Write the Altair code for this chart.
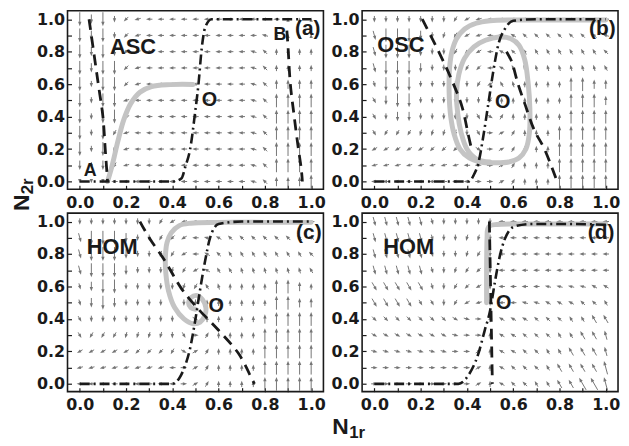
import math
import altair as alt
import pandas as pd

# ---------------- data ----------------
GRID_X = [0.0, 0.05, 0.1, 0.15, 0.2, 0.25, 0.3, 0.35, 0.4, 0.45, 0.5,
          0.55, 0.6, 0.65, 0.7, 0.75, 0.8, 0.85, 0.9, 0.95, 1.0]
GRID_Y = [1.0, 0.9, 0.8, 0.7, 0.6, 0.5, 0.4, 0.3, 0.2, 0.1, 0.0]
TICKS = [0.0, 0.2, 0.4, 0.6, 0.8, 1.0]
MINOR = [0.0, 0.1, 0.2, 0.3, 0.4, 0.5, 0.6, 0.7, 0.8, 0.9, 1.0]

# arrow field: clock direction + length class (t,s,m,l), one row per GRID_Y
ARROWS_A = [
    "6l 6m 6l 6s 7.5s 8.5s 9s 9s 9s 9s 9s 9s 9s 9s 9s 9s 9s 9s 12t 12t 12t",
    "6l 6m 6l 6s 7.5s 8.5s 9s 9s 9s 9s 9s 9s 9s 9s 9s 9s 9.5s 11s 12t 12t 12t",
    "6l 6m 6l 6m 7.5s 8.5s 9s 9s 9s 9s 9s 9s 9s 9s 9s 9.5s 10.5s 12s 12s 12s 12s",
    "6l 6m 6l 6l 7.5s 8.5s 9s 9s 9s 9s 9s 9s 9s 9s 9s 9.5s 10.5s 12s 12s 12s 12s",
    "6l 6s 6l 6l 7.5s 8.5s 9s 9s 9s 9s 9s 9s 9s 9s 9s 9.5s 10.5s 12m 12m 12m 12m",
    "6l 6s 6l 6l 8.5s 9s 9s 9s 9s 9s 9s 9s 9s 9s 9s 9.5s 10.5s 12l 12l 12l 12l",
    "6l 6s 6l 6l 8.5s 9s 9s 9s 9s 9s 9s 9s 9s 9s 9s 9.5s 10.5s 12l 12l 12l 12l",
    "6l 6s 6l 7s 8.5s 9s 9s 9s 9s 9s 9s 9s 9s 9s 9s 9.5s 10.5s 12l 12l 12l 12l",
    "6l 6s 6l 7s 8.5s 9s 9s 9s 9s 9s 9s 9s 9s 9s 9s 9.5s 10.5s 12l 12l 12l 12l",
    "6m 6s 6m 7s 8.5s 9s 9s 9s 9s 9s 9s 9s 9s 9s 9s 9.5s 10.5s 12l 12l 12l 12l",
    "6t 6t 6t 9s 9s 9s 9s 9s 9s 9s 9s 9s 9s 9s 9s 9.5s 10.5s 12m 12m 12m 12l",
]
ARROWS_B = [
    "6s 6s 6s 6s 6s 6s 6s 7s 8s 8.5s 9s 9s 9s 9s 9s 9s 9s 9s 9s 9s 9s",
    "5.5m 6l 6l 6l 6m 6s 6.5s 7s 8s 8.5s 9s 9.5s 10s 10.5s 10.5s 10.5s 10.5s 10.5s 10.5s 10.5s 9.5s",
    "5.5m 6l 6l 6l 6m 6s 6s 7s 7.5s 8s 9s 10s 10.5s 11s 11s 11s 11s 11s 11s 11s 10.5s",
    "5.5m 6l 6l 6l 6m 6s 6s 6s 7s 7.5s 9s 10s 11s 11s 11.5s 11.5s 11.5s 11.5s 11.5s 11.5s 11s",
    "5.5s 6l 6l 6l 6s 6s 6s 6s 6s 7s 8s 11s 11.5s 12s 12s 12s 12s 12l 12l 12m 12m",
    "5s 6m 6l 6l 6s 6s 6s 6s 6s 6s 7s 12s 12s 12s 12s 12s 12s 12l 12l 12l 12m",
    "5s 6s 6m 6m 6s 6s 6s 6s 6s 5s 4s 1s 12s 12s 12s 12s 12s 12l 12l 12l 12l",
    "5s 7s 7s 7s 6.5s 6.5s 6.5s 6.5s 6s 5s 3s 2s 1s 12s 12s 12s 12l 12l 12l 12l 12l",
    "8s 8s 8s 8s 8s 7.5s 7.5s 7.5s 6s 4s 3s 2s 1s 12s 12s 12s 12l 12l 12l 12l 12l",
    "8.5s 8.5s 8.5s 8.5s 8.5s 8.5s 8.5s 8.5s 9s 3s 3s 2s 1s 12s 12s 12s 12l 12l 12l 12l 12l",
    "9s 9s 9s 9s 9s 9s 9s 9s 9s 3s 3s 2s 1s 12s 12s 12s 12l 12l 12l 12l 12l",
]
ARROWS_C = [
    "6s 6s 6s 6s 6s 6s 6s 7s 8s 8.5s 9s 9s 9s 9s 9s 9s 9s 9s 9s 9s 9s",
    "5.5m 6l 6l 6l 6m 6s 6s 7s 7.5s 8s 9s 9.5s 10s 10.5s 10.5s 10.5s 10.5s 10.5s 10.5s 10.5s 10s",
    "5.5m 6l 6l 6l 6m 6s 6s 6.5s 7s 8s 9s 10s 10.5s 11s 11s 11s 11s 11s 11s 11s 10.5s",
    "5.5m 6l 6l 6l 6m 6s 6s 6s 6.5s 7s 8s 10s 11s 11s 11.5s 11.5s 11.5s 11.5s 11.5s 11.5s 11s",
    "5.5s 6m 6l 6l 6s 6s 6s 6s 6s 6.5s 7s 11s 11.5s 12s 12s 12s 12s 12l 12l 12m 12s",
    "5.5s 6m 6l 6m 6s 6s 6s 6s 6s 6s 6s 12s 12s 12s 12s 12s 12s 12l 12l 12m 12m",
    "5s 6s 6s 6s 6s 6s 6s 6s 6s 5s 4s 12s 12s 12s 12s 12s 12m 12l 12l 12l 12l",
    "5s 7s 7s 7s 6.5s 6.5s 6.5s 6.5s 6s 5s 3s 1s 12s 12s 12s 12s 12l 12l 12l 12l 12l",
    "8s 8s 8s 8s 8s 7.5s 7.5s 7.5s 7s 4s 2s 1s 12s 12s 12s 12s 12l 12l 12l 12l 12l",
    "8.5s 8.5s 8.5s 8.5s 8.5s 8.5s 8.5s 8.5s 9s 3s 2s 1s 12s 12s 12s 12s 12l 12l 12l 12l 12l",
    "9s 9s 9s 9s 9s 9s 9s 9s 9s 3s 2s 1s 12s 12s 12s 12s 12l 12l 12l 12l 12l",
]
ARROWS_D = [
    "5.5m 5.5m 5.5m 5.5m 5.5m 5.5s 6s 6s 6s 6s 6s 9s 9s 9s 9s 9s 9s 9s 9s 9s 9s",
    "5.5m 5.5m 5.5m 5.5m 5.5m 5.5s 6s 6s 6.5s 6.5s 6s 9s 9s 9s 9s 9s 9s 9s 9s 9s 9s",
    "5.5m 5.5m 5.5m 5.5m 5.5m 5.5s 6s 6s 6.5s 7s 6s 9s 9s 9s 9s 9s 9s 9s 9s 9s 9s",
    "5.5m 5.5m 5.5m 5.5m 5.5m 5.5s 6s 6.5s 7s 7.5s 6s 9s 9s 9s 9s 9s 9s 9s 9s 9s 9s",
    "5m 5m 5m 5m 5m 5.5s 6s 7s 7.5s 8s 6s 9s 9s 9s 9s 9.5s 9.5s 9.5s 9.5s 10s 10s",
    "5m 5m 5m 5m 5s 5s 6s 7s 8s 8.5s 6s 9s 9s 9.5s 9.5s 10s 10s 10s 10.5s 10.5s 11s",
    "4.5s 4.5s 4.5s 4.5s 4.5s 4.5s 4.5s 4s 3.5s 3s 12s 10s 10s 10s 10.5s 10.5s 10.5s 11s 11s 11m 11m",
    "4s 4s 4s 4s 4s 4s 4s 3.5s 3s 3s 12s 10s 10s 10.5s 10.5s 10.5s 11s 11s 11m 11m 11.5m",
    "3.5s 3.5s 3.5s 3.5s 3.5s 3.5s 3.5s 3s 3s 2s 12s 10s 10s 10.5s 10.5s 11s 11s 11m 11m 11m 11.5m",
    "3s 3s 3s 3s 3s 3s 3s 3s 3s 2s 12s 10s 10.5s 10.5s 10.5s 11s 11m 11m 11m 11m 11.5l",
    "3s 3s 3s 3s 3s 3s 3s 3s 3s 2s 12s 10s 10.5s 10.5s 11s 11s 11m 11m 11l 11l 11.5l",
]

# N2 nullclines (dash-dot)
SIG_A_X = [0.0, 0.2, 0.405, 0.44, 0.456, 0.477, 0.498, 0.513, 0.527, 0.542, 0.57, 0.7, 0.85, 1.0]
SIG_A_Y = [0.0, 0.0, 0.0, 0.02, 0.09, 0.2, 0.42, 0.6, 0.82, 0.95, 1.0, 1.0, 1.0, 1.0]
SIG_B_X = [0.0, 0.2, 0.41, 0.428, 0.45, 0.471, 0.4925, 0.514, 0.535, 0.564, 0.6, 0.7, 0.85, 1.0]
SIG_B_Y = [0.0, 0.0, 0.0, 0.036, 0.117, 0.28, 0.48, 0.68, 0.84, 0.94, 0.99, 1.0, 1.0, 1.0]
SIG_C_X = [0.0, 0.2, 0.4, 0.43, 0.456, 0.477, 0.5, 0.52, 0.542, 0.563, 0.6, 0.7, 0.85, 1.0]
SIG_C_Y = [0.0, 0.0, 0.0, 0.035, 0.115, 0.22, 0.4, 0.58, 0.76, 0.9, 0.985, 1.0, 1.0, 1.0]
SIG_D_X = [0.0, 0.2, 0.363, 0.405, 0.448, 0.477, 0.5, 0.52, 0.541, 0.563, 0.606, 0.677, 0.85, 1.0]
SIG_D_Y = [0.0, 0.0, 0.0, 0.05, 0.18, 0.33, 0.45, 0.62, 0.78, 0.89, 0.97, 0.985, 0.985, 0.98]

# N1 nullclines (dashed), one or two branches
NC_A1_X = [0.04, 0.06, 0.08, 0.1, 0.11, 0.12]
NC_A1_Y = [1.0, 0.8, 0.6, 0.4, 0.2, 0.0]
NC_A2_X = [0.895, 0.9, 0.91, 0.925, 0.943, 0.957, 0.962]
NC_A2_Y = [0.93, 0.83, 0.6, 0.42, 0.22, 0.08, 0.0]
NC_B1_X = [0.207, 0.278, 0.336, 0.379, 0.407, 0.42]
NC_B1_Y = [1.0, 0.8, 0.62, 0.46, 0.28, 0.2]
NC_B2_X = [0.571, 0.593, 0.621, 0.65, 0.69, 0.735, 0.79]
NC_B2_Y = [0.8, 0.74, 0.6, 0.48, 0.32, 0.2, 0.0]
NC_C1_X = [0.26, 0.3, 0.367, 0.438, 0.5, 0.6, 0.687, 0.744, 0.755]
NC_C1_Y = [1.0, 0.9, 0.76, 0.59, 0.48, 0.33, 0.185, 0.03, 0.0]
NC_D1_X = [0.497, 0.51]
NC_D1_Y = [1.0, 0.0]

# trajectories (grey)
TR_A_X = [0.12, 0.14, 0.165, 0.19, 0.22, 0.26, 0.31, 0.39, 0.49]
TR_A_Y = [0.0, 0.1, 0.25, 0.38, 0.48, 0.55, 0.585, 0.597, 0.598]
TR_B_X = [1.0, 0.8, 0.6, 0.5, 0.44, 0.39, 0.355, 0.335, 0.325, 0.323, 0.33, 0.345, 0.37, 0.41,
          0.46, 0.52, 0.58, 0.625, 0.655, 0.67, 0.672, 0.665, 0.65, 0.625, 0.59, 0.54, 0.48,
          0.43, 0.39, 0.365, 0.355, 0.36, 0.375, 0.4, 0.44, 0.5]
TR_B_Y = [0.995, 0.995, 0.995, 0.99, 0.975, 0.94, 0.88, 0.8, 0.7, 0.55, 0.4, 0.29, 0.2, 0.145,
          0.12, 0.115, 0.12, 0.145, 0.2, 0.3, 0.45, 0.6, 0.75, 0.84, 0.88, 0.89, 0.87,
          0.83, 0.76, 0.66, 0.55, 0.42, 0.3, 0.2, 0.14, 0.12]
TR_C_X = [1.0, 0.8, 0.6, 0.48, 0.43, 0.395, 0.377, 0.37, 0.372, 0.384, 0.41, 0.45, 0.49, 0.52,
          0.54, 0.545, 0.53, 0.505, 0.48, 0.47, 0.48, 0.5]
TR_C_Y = [0.995, 0.995, 0.995, 0.99, 0.975, 0.93, 0.87, 0.78, 0.68, 0.57, 0.47, 0.4, 0.37, 0.38,
          0.42, 0.47, 0.52, 0.545, 0.53, 0.5, 0.47, 0.46]
TR_D_X = [0.485, 0.485, 0.487, 0.49, 0.5, 0.53, 0.6, 0.8, 1.0]
TR_D_Y = [0.5, 0.7, 0.9, 0.955, 0.975, 0.982, 0.985, 0.985, 0.985]

# annotations
LAB_A = ["ASC", "O", "A", "B", "(a)"]
LAB_A_X = [0.23, 0.56, 0.045, 0.865, 0.985]
LAB_A_Y = [0.83, 0.5, 0.065, 0.905, 0.94]
LAB_B = ["OSC", "O", "(b)"]
LAB_B_X = [0.115, 0.555, 0.985]
LAB_B_Y = [0.84, 0.49, 0.94]
LAB_C = ["HOM", "O", "(c)"]
LAB_C_X = [0.14, 0.59, 0.99]
LAB_C_Y = [0.84, 0.48, 0.93]
LAB_D = ["HOM", "O", "(d)"]
LAB_D_X = [0.148, 0.559, 0.98]
LAB_D_Y = [0.845, 0.496, 0.93]

# ---------------- styling / layout ----------------
W, H = 258, 180
XDOM = [-0.053, 1.053]
YDOM = [-0.048, 1.052]
PX = W / (XDOM[1] - XDOM[0])
PY = H / (YDOM[1] - YDOM[0])
LEN = {"t": 3.5, "s": 6.5, "m": 9.5, "l": 14.0}
HEAD_R = 2.4
INK = "#1a1a1a"
ARROW = "#757575"
TRAJ = "#c4c4c4"
FONT = "Liberation Sans"
TICK_FONT = "DejaVu Sans"
HEAD_SHAPE = "M0,-1L0.7,0.8L-0.7,0.8Z"


def arrows_df(rows):
    recs = []
    for j, row in enumerate(rows):
        for i, tok in enumerate(row.split()):
            if tok == ".":
                continue
            c = float(tok[:-1])
            L = LEN[tok[-1]]
            th = math.radians(c * 30.0)
            ux, uy = math.sin(th) / PX, math.cos(th) / PY
            x0, y0 = GRID_X[i], GRID_Y[j]
            tx, ty = x0 + ux * L / 2, y0 + uy * L / 2
            sx, sy = x0 - ux * L / 2, y0 - uy * L / 2
            hx, hy = tx - ux * HEAD_R, ty - uy * HEAD_R
            recs.append(dict(x=sx, y=sy, x2=hx, y2=hy, ang=(c * 30.0) % 360))
    return pd.DataFrame(recs)


def line_df(pieces):
    recs = []
    for k, (xs, ys) in enumerate(pieces):
        for i, (a, b) in enumerate(zip(xs, ys)):
            recs.append(dict(x=a, y=b, i=i, seg=k))
    return pd.DataFrame(recs)


def fsize(t):
    if t.startswith("("):
        return 21
    if len(t) == 3:
        return 22
    if t == "O":
        return 20
    return 18


def panel(arrows, sig, ncs, traj, labs, with_titles=False):
    xs = alt.Scale(domain=XDOM, nice=False, zero=False)
    ys = alt.Scale(domain=YDOM, nice=False, zero=False)
    common = dict(title=None, ticks=False, domain=False, grid=False, labelFont=TICK_FONT,
                  labelFontSize=16, labelFontWeight="bold", labelColor=INK,
                  labelFlush=False, labelOverlap=False, format=".1f", values=TICKS)
    ax_x = alt.Axis(labelPadding=5, **common)
    ax_y = alt.Axis(labelPadding=3, **common)

    adf = arrows_df(arrows)
    shafts = alt.Chart(adf).mark_rule(color=ARROW, strokeWidth=1).encode(
        x=alt.X("x:Q", scale=xs, axis=ax_x),
        y=alt.Y("y:Q", scale=ys, axis=ax_y),
        x2="x2:Q", y2="y2:Q")
    heads = alt.Chart(adf).mark_point(shape=HEAD_SHAPE, filled=True, size=4 * HEAD_R ** 2,
                                      color=ARROW, opacity=1, strokeWidth=0).encode(
        x=alt.X("x2:Q", scale=xs, axis=None),
        y=alt.Y("y2:Q", scale=ys, axis=None),
        angle=alt.Angle("ang:Q", scale=None))

    tdf = pd.DataFrame({"v": MINOR})
    tick_ax = dict(values=MINOR, labels=False, domain=False, grid=False, tickSize=4,
                   tickColor=INK, tickWidth=1.2, title=None)
    ticks = alt.Chart(tdf).mark_point(opacity=0).encode(
        x=alt.X("v:Q", scale=xs, axis=alt.Axis(orient="top", offset=-H, **tick_ax)),
        y=alt.Y("v:Q", scale=ys, axis=alt.Axis(orient="right", offset=-W, **tick_ax)))

    tr = alt.Chart(line_df([traj])).mark_line(
        color=TRAJ, strokeWidth=5, strokeCap="round", strokeJoin="round",
        interpolate="catmull-rom").encode(
        x=alt.X("x:Q", scale=xs, axis=None), y=alt.Y("y:Q", scale=ys, axis=None),
        order="i:Q")
    sg = alt.Chart(line_df([sig])).mark_line(
        color=INK, strokeWidth=2.6, strokeDash=[10, 4, 2, 4], interpolate="monotone").encode(
        x=alt.X("x:Q", scale=xs, axis=None), y=alt.Y("y:Q", scale=ys, axis=None),
        order="i:Q")
    nc = alt.Chart(line_df(ncs)).mark_line(
        color=INK, strokeWidth=2.8, strokeDash=[11, 7], interpolate="catmull-rom").encode(
        x=alt.X("x:Q", scale=xs, axis=None), y=alt.Y("y:Q", scale=ys, axis=None),
        order="i:Q", detail="seg:N")

    t, lx, ly = labs
    ldf = pd.DataFrame({"t": t, "x": lx, "y": ly})
    ldf["fs"] = [fsize(s) for s in t]
    txt = alt.Chart(ldf).mark_text(font=FONT, fontWeight="bold", color=INK,
                                   align="center", baseline="middle").encode(
        x=alt.X("x:Q", scale=xs, axis=None), y=alt.Y("y:Q", scale=ys, axis=None),
        text="t:N", size=alt.Size("fs:Q", scale=None))

    layers = [shafts, heads, ticks, tr, sg, nc, txt]
    if with_titles:
        one = pd.DataFrame({"a": [0]})
        big = dict(font=FONT, fontWeight="bold", color=INK, fontSize=23)
        small = dict(font=FONT, fontWeight="bold", color=INK, fontSize=17)
        layers += [
            alt.Chart(one).mark_text(align="left", baseline="alphabetic", angle=270, **big)
            .encode(x=alt.value(-39), y=alt.value(-2), text=alt.value("N")),
            alt.Chart(one).mark_text(align="left", baseline="alphabetic", angle=270, **small)
            .encode(x=alt.value(-35), y=alt.value(-19), text=alt.value("2r")),
            alt.Chart(one).mark_text(align="left", baseline="alphabetic", **big)
            .encode(x=alt.value(267), y=alt.value(223), text=alt.value("N")),
            alt.Chart(one).mark_text(align="left", baseline="alphabetic", **small)
            .encode(x=alt.value(284), y=alt.value(227), text=alt.value("1r")),
        ]
    return alt.layer(*layers).properties(width=W, height=H).resolve_axis(
        x="independent", y="independent")


pa = panel(ARROWS_A, (SIG_A_X, SIG_A_Y), [(NC_A1_X, NC_A1_Y), (NC_A2_X, NC_A2_Y)],
           (TR_A_X, TR_A_Y), (LAB_A, LAB_A_X, LAB_A_Y))
pb = panel(ARROWS_B, (SIG_B_X, SIG_B_Y), [(NC_B1_X, NC_B1_Y), (NC_B2_X, NC_B2_Y)],
           (TR_B_X, TR_B_Y), (LAB_B, LAB_B_X, LAB_B_Y))
pc = panel(ARROWS_C, (SIG_C_X, SIG_C_Y), [(NC_C1_X, NC_C1_Y)],
           (TR_C_X, TR_C_Y), (LAB_C, LAB_C_X, LAB_C_Y), with_titles=True)
pd_ = panel(ARROWS_D, (SIG_D_X, SIG_D_Y), [(NC_D1_X, NC_D1_Y)],
            (TR_D_X, TR_D_Y), (LAB_D, LAB_D_X, LAB_D_Y))

chart = alt.concat(pa, pb, pc, pd_, columns=2, spacing={"row": 24, "column": 39},
                   bounds="flush").properties(
    padding={"left": 2, "top": 0, "right": 0, "bottom": 0},
    background="white",
).configure_view(stroke=INK, strokeWidth=1.6)

chart.save("out.html", embed_options={"renderer": "svg", "actions": False})
